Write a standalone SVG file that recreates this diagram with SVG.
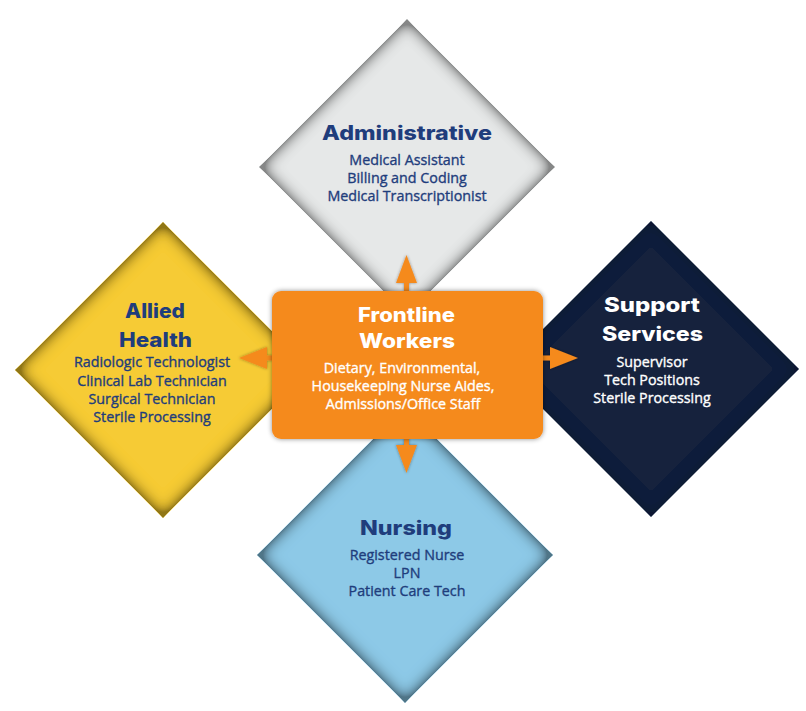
<svg xmlns="http://www.w3.org/2000/svg" width="806" height="711" viewBox="0 0 806 711">
<defs>
  <filter id="inner" x="-5%" y="-5%" width="110%" height="110%">
    <feGaussianBlur in="SourceAlpha" stdDeviation="8" result="b"/>
    <feComposite in="SourceAlpha" in2="b" operator="arithmetic" k2="2" k3="-2" result="edge"/>
    <feFlood flood-color="#000" flood-opacity="0.7"/>
    <feComposite in2="edge" operator="in" result="shadow"/>
    <feMerge><feMergeNode in="SourceGraphic"/><feMergeNode in="shadow"/></feMerge>
  </filter>
  <filter id="innerDark" x="-5%" y="-5%" width="110%" height="110%">
    <feGaussianBlur in="SourceAlpha" stdDeviation="7" result="b"/>
    <feComposite in="SourceAlpha" in2="b" operator="arithmetic" k2="1.6" k3="-1.6" result="edge"/>
    <feFlood flood-color="#000" flood-opacity="0.3"/>
    <feComposite in2="edge" operator="in" result="shadow"/>
    <feMerge><feMergeNode in="SourceGraphic"/><feMergeNode in="shadow"/></feMerge>
  </filter>
  <filter id="drop" x="-10%" y="-10%" width="120%" height="120%">
    <feDropShadow dx="0" dy="0" stdDeviation="2.5" flood-color="#000" flood-opacity="0.45"/>
  </filter>
  <filter id="adrop" x="-30%" y="-30%" width="160%" height="160%">
    <feDropShadow dx="0" dy="0" stdDeviation="1.5" flood-color="#000" flood-opacity="0.4"/>
  </filter>
</defs>
<style>
  .title { font-family: Inter, "Liberation Sans", sans-serif; font-weight: 800; font-size: 20px; text-anchor: middle; }
  .body { font-family: "Open Sans", "Noto Sans", "Liberation Sans", sans-serif; font-size: 14.3px; text-anchor: middle; stroke-width: 0.35px; }
  .blue { fill: #1F3D7C; }
  .body.blue { stroke: #1F3D7C; }
  .white { fill: #FFFFFF; }
  .body.white { stroke: #FFFFFF; }
  .arrow { fill: #F58A1F; filter: url(#adrop); }
</style>
<rect width="806" height="711" fill="#FFFFFF"/>

<g id="administrative">
  <polygon points="407,19 555,167 407,315 259,167" fill="#E6E8E8" filter="url(#inner)"/>
  <text class="title blue" x="407" y="140" textLength="170" lengthAdjust="spacingAndGlyphs">Administrative</text>
  <text class="body blue" x="407" y="165">Medical Assistant</text>
  <text class="body blue" x="407" y="183">Billing and Coding</text>
  <text class="body blue" x="407" y="201">Medical Transcriptionist</text>
</g>

<g id="allied-health">
  <polygon points="163,222 311,370 163,518 15,370" fill="#F6CB34" filter="url(#inner)"/>
  <text class="title blue" x="155" y="318" font-size="21" textLength="60" lengthAdjust="spacingAndGlyphs">Allied</text>
  <text class="title blue" x="155.5" y="347" font-size="21" textLength="73" lengthAdjust="spacingAndGlyphs">Health</text>
  <text class="body blue" x="152" y="367">Radiologic Technologist</text>
  <text class="body blue" x="152" y="386">Clinical Lab Technician</text>
  <text class="body blue" x="152" y="404">Surgical Technician</text>
  <text class="body blue" x="152" y="422">Sterile Processing</text>
</g>

<g id="support-services">
  <polygon points="651,221 799,369 651,517 503,369" fill="#14213D" filter="url(#innerDark)"/>
  <text class="title white" x="652" y="312" font-size="21" textLength="96" lengthAdjust="spacingAndGlyphs">Support</text>
  <text class="title white" x="652.5" y="341" font-size="21" textLength="101" lengthAdjust="spacingAndGlyphs">Services</text>
  <text class="body white" x="652" y="367">Supervisor</text>
  <text class="body white" x="652" y="385">Tech Positions</text>
  <text class="body white" x="652" y="403">Sterile Processing</text>
</g>

<g id="nursing">
  <polygon points="405,407 553,555 405,703 257,555" fill="#8DC9E7" filter="url(#inner)"/>
  <text class="title blue" x="406" y="535" font-size="21" textLength="92" lengthAdjust="spacingAndGlyphs">Nursing</text>
  <text class="body blue" x="407" y="560">Registered Nurse</text>
  <text class="body blue" x="407" y="578">LPN</text>
  <text class="body blue" x="407" y="596">Patient Care Tech</text>
</g>

<g id="connectors">
  <path class="arrow" d="M404,292 V283 H396 L406.5,255 L417,283 H409 V292 Z"/>
  <path class="arrow" d="M404,438 V445 H396 L406.5,473 L417,445 H409 V438 Z"/>
  <path class="arrow" d="M542,355.5 H550 V347 L578,358 L550,369 V360.5 H542 Z"/>
  <path class="arrow" d="M273,355.5 H267 V347 L239,358 L267,369 V360.5 H273 Z"/>
</g>

<g id="frontline-workers">
  <rect x="272" y="291" width="271" height="148" rx="9" fill="#F58A1F" filter="url(#drop)"/>
  <text class="title white" x="406.5" y="322" font-size="20" textLength="97" lengthAdjust="spacingAndGlyphs">Frontline</text>
  <text class="title white" x="407" y="348" font-size="20" textLength="96" lengthAdjust="spacingAndGlyphs">Workers</text>
  <text class="body white" x="402" y="373">Dietary, Environmental,</text>
  <text class="body white" x="403" y="391">Housekeeping Nurse Aides,</text>
  <text class="body white" x="403" y="409">Admissions/Office Staff</text>
</g>
</svg>
